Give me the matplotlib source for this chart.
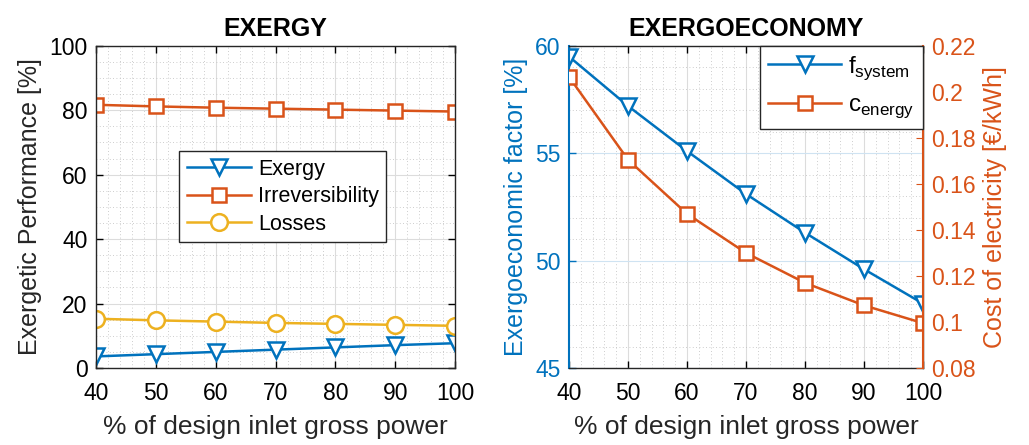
import matplotlib.pyplot as plt
from matplotlib.ticker import MultipleLocator

plt.rcParams['font.family'] = ['Liberation Sans', 'DejaVu Sans']
plt.rcParams['mathtext.fontset'] = 'custom'
plt.rcParams['mathtext.rm'] = 'Liberation Sans'

# data
load = [40, 50, 60, 70, 80, 90, 100]
exergy = [3.6, 4.3, 5.0, 5.7, 6.4, 7.1, 7.7]
irrev = [81.7, 81.2, 80.8, 80.5, 80.2, 79.9, 79.6]
losses = [15.3, 14.8, 14.4, 14.0, 13.7, 13.4, 13.1]
f_system = [59.5, 57.2, 55.1, 53.1, 51.3, 49.6, 48.0]
c_energy = [0.2065, 0.1705, 0.1470, 0.1300, 0.1170, 0.1072, 0.0995]
c_ticks = [0.08, 0.10, 0.12, 0.14, 0.16, 0.18, 0.20, 0.22]
c_ticklabels = ['0.08', '0.1', '0.12', '0.14', '0.16', '0.18', '0.2', '0.22']

BLUE = '#0072BD'
ORANGE = '#D95319'
YELLOW = '#EDB120'
DARK = '#262626'
XLBL = 19
YLBL = 18
TCK = 16.5
LW = 1.8


def matlab_grid(ax):
    ax.set_axisbelow(True)
    ax.grid(True, which='major', color='#dcdcdc', lw=0.8)
    ax.grid(True, which='minor', color='#bdbdbd', lw=0.6, ls=(0, (1, 3)))
    ax.tick_params(which='both', direction='in', labelsize=TCK, width=1.0)
    ax.tick_params(which='major', length=5)
    ax.tick_params(which='minor', length=0)
    ax.tick_params(axis='x', pad=10)
    ax.tick_params(axis='y', pad=6)
    for s in ax.spines.values():
        s.set_linewidth(1.0)
        s.set_color(DARK)


fig = plt.figure(figsize=(10.29, 4.45), dpi=100)

# left panel
ax1 = fig.add_axes((0.0933, 0.173, 0.349, 0.724))
ax1.plot(load, exergy, '-v', color=BLUE, label='Exergy', lw=LW, ms=12, mew=LW, mfc='white')
ax1.plot(load, irrev, '-s', color=ORANGE, label='Irreversibility', lw=LW, ms=10, mew=LW, mfc='white')
ax1.plot(load, losses, '-o', color=YELLOW, label='Losses', lw=LW, ms=12, mew=LW, mfc='white')
ax1.set_xlim(40, 100)
ax1.set_ylim(0, 100)
ax1.xaxis.set_major_locator(MultipleLocator(10))
ax1.yaxis.set_major_locator(MultipleLocator(20))
ax1.xaxis.set_minor_locator(MultipleLocator(2))
ax1.yaxis.set_minor_locator(MultipleLocator(5))
matlab_grid(ax1)
ax1.tick_params(which='both', top=True, right=True)
ax1.set_xlabel('% of design inlet gross power', fontsize=XLBL, color=DARK, labelpad=7)
ax1.set_ylabel('Exergetic Performance [%]', fontsize=YLBL, color=DARK, labelpad=5)
ax1.set_title('EXERGY', fontsize=18, fontweight='bold', pad=7)
leg = ax1.legend(loc='center', bbox_to_anchor=(0.52, 0.532), fontsize=15.5,
                 fancybox=False, edgecolor=DARK, framealpha=1,
                 handlelength=3.0, borderpad=0.35, labelspacing=0.3,
                 handletextpad=0.3)
leg.get_frame().set_linewidth(1.0)

# right panel
ax2 = fig.add_axes((0.553, 0.173, 0.344, 0.724))
ax2.plot(load, f_system, '-v', color=BLUE, lw=LW, ms=12, mew=LW, mfc='white')
ax2.set_xlim(40, 100)
ax2.set_ylim(45, 60)
ax2.xaxis.set_major_locator(MultipleLocator(10))
ax2.yaxis.set_major_locator(MultipleLocator(5))
ax2.xaxis.set_minor_locator(MultipleLocator(2))
ax2.yaxis.set_minor_locator(MultipleLocator(1))
matlab_grid(ax2)
ax2.grid(True, which='major', axis='y', color='#cfe3f2', lw=0.8)
ax2.tick_params(which='both', top=True)
ax2.tick_params(axis='y', colors=BLUE)
ax2.spines['left'].set_color(BLUE)
ax2.spines['left'].set_linewidth(1.5)
ax2.set_xlabel('% of design inlet gross power', fontsize=XLBL, color=DARK, labelpad=7)
ax2.set_ylabel('Exergoeconomic factor [%]', fontsize=YLBL, color=BLUE, labelpad=5)
ax2.set_title('EXERGOECONOMY', fontsize=18, fontweight='bold', pad=7)

ax3 = ax2.twinx()
ax3.plot(load, c_energy, '-s', color=ORANGE, lw=LW, ms=10, mew=LW, mfc='white')
ax3.set_ylim(0.08, 0.22)
ax3.set_yticks(c_ticks)
ax3.set_yticklabels(c_ticklabels)
ax3.tick_params(axis='y', direction='in', colors=ORANGE, labelsize=TCK, length=5, pad=6)
for s in ax3.spines.values():
    s.set_visible(False)
ax3.spines['right'].set_visible(True)
ax3.spines['right'].set_color(ORANGE)
ax3.spines['right'].set_linewidth(1.5)
ax3.set_ylabel('Cost of electricity [€/kWh]', fontsize=YLBL, color=ORANGE, labelpad=5)

h1 = ax2.get_lines()[0]
h2 = ax3.get_lines()[0]
leg2 = ax3.legend([h1, h2], [r'f$_{\mathrm{system}}$', r'c$_{\mathrm{energy}}$'],
                  loc='upper right', bbox_to_anchor=(1.0, 1.0), borderaxespad=0.0,
                  fontsize=17.5, fancybox=False, edgecolor=DARK, framealpha=1,
                  handlelength=3.0, borderpad=0.35, labelspacing=0.5,
                  handletextpad=0.3)
leg2.get_frame().set_linewidth(1.0)

fig.savefig('out.png', dpi=100)
